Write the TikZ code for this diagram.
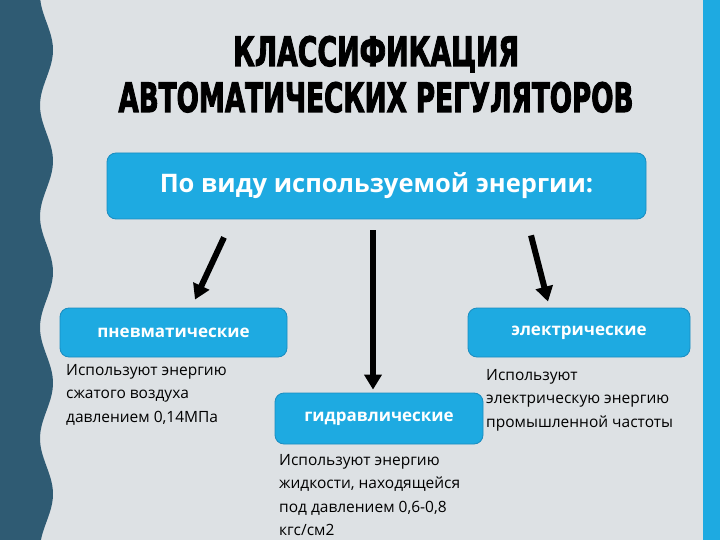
\documentclass[tikz,border=0pt]{standalone}
\usepackage{fontspec}
\setmainfont{Open Sans}
\newfontfamily\titlefont[BoldFeatures={FakeBold=3}]{DejaVu Sans}
\usetikzlibrary{arrows.meta}
\definecolor{pagebg}{HTML}{DDE1E4}
\definecolor{wavedark}{HTML}{2F5B73}
\definecolor{boxblue}{HTML}{1EAAE1}
\definecolor{boxedge}{HTML}{1A8CC0}
\tikzset{
  catbox/.style={rounded corners=9pt, fill=boxblue, draw=boxedge, line width=0.8pt,
    text=white, font=\bfseries\fontsize{17}{20}\selectfont, inner sep=0pt},
  note/.style={anchor=north west, align=left, inner sep=0pt,
    font=\fontsize{15.5}{23.5}\selectfont},
  downarrow/.style={line width=6pt, -{Triangle[length=15pt,width=17pt]}}
}
\begin{document}
\begin{tikzpicture}[x=1pt,y=-1pt]
  \useasboundingbox (0,0) rectangle (720,540);
  % background, wavy band and right edge
  \fill[pagebg] (0,0) rectangle (720,540);
  \fill[wavedark] (0,0) -- plot[domain=0:540, samples=120]
    ({46.5+6.5*cos((\x-50)*3.2432)}, \x) -- (0,540) -- cycle;
  \fill[boxblue] (703,0) rectangle (720,540);
  % title
  \node[anchor=base, inner sep=0pt] (title1) at (376,66)
    {\resizebox{286pt}{30pt}{\titlefont\bfseries КЛАССИФИКАЦИЯ}};
  \node[anchor=base, inner sep=0pt] (title2) at (376,112)
    {\resizebox{515pt}{30pt}{\titlefont\bfseries АВТОМАТИЧЕСКИХ РЕГУЛЯТОРОВ}};
  % boxes
  \node[catbox, minimum width=539pt, minimum height=66pt,
    font=\bfseries\fontsize{25.5}{30}\selectfont] (energy) at (376.5,186)
    {По виду используемой энергии:};
  \node[catbox, minimum width=227pt, minimum height=49pt] (pneu) at (173.5,332.5)
    {пневматические};
  \node[catbox, minimum width=222pt, minimum height=49pt] (elec) at (579,332.5)
    {электрические};
  \node[catbox, minimum width=208pt, minimum height=51pt] (hydr) at (379,418.5)
    {гидравлические};
  % notes
  \node[note] (pneunote) at (66,364)
    {Используют энергию\\сжатого воздуха\\давлением 0,14МПа};
  \node[note] (elecnote) at (486,369)
    {Используют\\электрическую энергию\\промышленной частоты};
  \node[note] (hydrnote) at (279,454)
    {Используют энергию\\жидкости, находящейся\\под давлением 0,6-0,8\\кгс/см2};
  % arrows
  \draw[downarrow] ([xshift=-152.5pt,yshift=-18pt]energy.south)
    -- ([xshift=21.5pt,yshift=8pt]pneu.north);
  \draw[downarrow] ([xshift=-3.5pt,yshift=-11pt]energy.south)
    -- ([xshift=-6pt,yshift=3pt]hydr.north);
  \draw[downarrow] ([xshift=154.5pt,yshift=-16pt]energy.south)
    -- ([xshift=-31pt,yshift=6pt]elec.north);
\end{tikzpicture}
\end{document}
